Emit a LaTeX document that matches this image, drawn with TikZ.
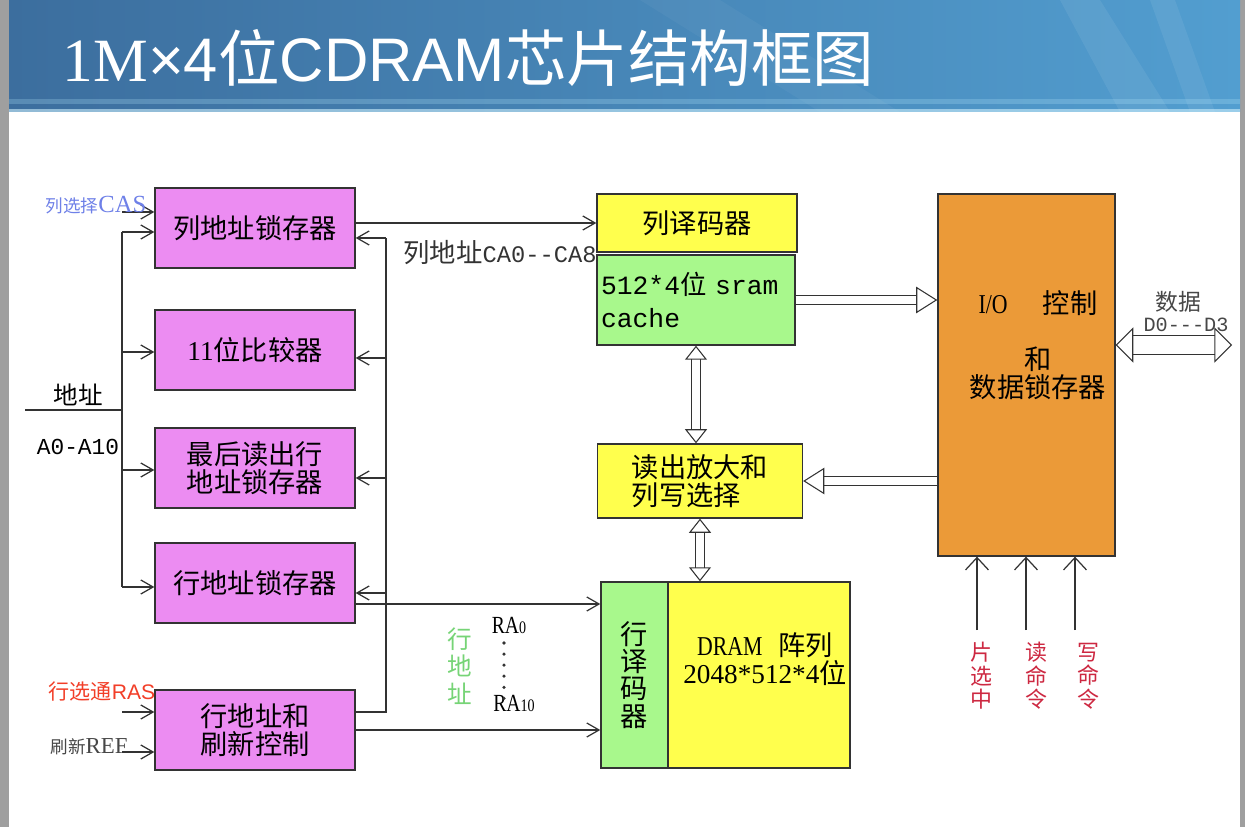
\documentclass[tikz,border=0pt]{standalone}
\usepackage{fontspec}
\setmainfont{Noto Sans CJK SC}
\newfontfamily\lat{Liberation Serif}
\newfontfamily\half{Liberation Serif}[FakeStretch=0.8]
\newfontfamily\mono{Liberation Mono}
\newfontfamily\sans{Liberation Sans}
\usetikzlibrary{arrows.meta, positioning}
\definecolor{boxpink}{RGB}{236,140,242}
\definecolor{boxyellow}{RGB}{255,255,77}
\definecolor{boxgreen}{RGB}{168,248,140}
\definecolor{boxorange}{RGB}{235,154,56}
\definecolor{wire}{RGB}{51,51,51}
\definecolor{barleft}{RGB}{60,110,158}
\definecolor{barright}{RGB}{82,158,208}
\definecolor{casblue}{RGB}{110,128,232}
\definecolor{rasred}{RGB}{242,62,40}
\definecolor{rowgreen}{RGB}{118,212,118}
\definecolor{cmdred}{RGB}{205,40,65}
\newcommand\boxfont{\fontsize{15.5pt}{16pt}\selectfont}

\begin{document}
\begin{tikzpicture}[x=0.02cm,y=-0.02cm,>={Straight Barb[length=7pt,width=8pt]},
  blk/.style={draw=wire,line width=0.8pt,minimum width=4cm,minimum height=1.6cm,font=\boxfont,align=center,inner sep=2pt},
  bus/.style={draw=wire,line width=0.6pt,double=white,double distance=#1},bus/.default=4pt,
  hollow/.tip={Triangle[open,length=12pt,width=15pt,line width=0.6pt]},
  hollowv/.tip={Triangle[open,length=8pt,width=12.5pt,line width=0.6pt]},
  hollowd/.tip={Triangle[open,length=10pt,width=20pt,line width=0.6pt]},
  every path/.append style={line width=0.7pt}]
\useasboundingbox (0,0) rectangle (1245,827);
% slide background and title bar
\fill[white] (0,0) rectangle (1245,827);
\fill[gray!75] (0,0) rectangle (9,827);
\fill[gray!75] (1240,0) rectangle (1245,827);
\shade[left color=barleft,right color=barright] (9,0) rectangle (1240,112);
\fill[white,opacity=0.07] (1060,0) -- (1100,0) -- (1170,112) -- (1120,112) -- cycle;
\fill[white,opacity=0.07] (1150,0) -- (1175,0) -- (1215,112) -- (1190,112) -- cycle;
\fill[white,opacity=0.04] (640,0) -- (720,0) -- (900,112) -- (820,112) -- cycle;
\fill[cyan!30,opacity=0.25] (9,99) rectangle (1240,104);
\fill[cyan!20!white,opacity=0.6] (9,109) rectangle (1240,112);
\node[anchor=base west,text=white,font=\fontsize{35pt}{35pt}\selectfont,inner sep=0pt] at (62,82) (title) {{\lat 1M}{\sans ×4}位{\sans CDRAM}芯片结构框图};

% left column
\node[blk,fill=boxpink] at (255,228) (cal) {列地址锁存器};
\node[blk,fill=boxpink] at (255,350) (cmp) {{\lat 11}位比较器};
\node[blk,fill=boxpink] at (255,468) (lra) {最后读出行\\地址锁存器};
\node[blk,fill=boxpink] at (255,583) (ral) {行地址锁存器};
\node[blk,fill=boxpink] at (255,730) (rfc) {行地址和\\刷新控制};

% middle column
\node[blk,fill=boxyellow,minimum height=1.16cm] at (697,223) (cdec) {列译码器};
\node[blk,fill=boxgreen,minimum width=3.96cm,minimum height=1.8cm,text width=3.8cm,align=left,inner xsep=0.08cm,
  font=\mono\fontsize{15pt}{19pt}\selectfont] at (696,300) (sram) {512*4{\rmfamily 位} sram\\cache};
\node[blk,fill=boxyellow,minimum width=4.1cm,minimum height=1.48cm,align=left] at (700,481) (rsa) {读出放大和\\列写选择};
\node[blk,fill=boxgreen,minimum width=1.34cm,minimum height=3.72cm,font=\fontsize{15.5pt}{15.5pt}\selectfont] at (634.5,675) (rdec) {行\\译\\码\\器};
\node[blk,fill=boxyellow,minimum width=3.64cm,minimum height=3.72cm] at (759,675) (dram) {};
\node[font=\boxfont,align=center] at (765,659) (dramtxt) {{\half DRAM}\hspace{9pt}阵列\\{\lat 2048*512*4}位};

% right column
\node[blk,fill=boxorange,minimum width=3.54cm,minimum height=7.24cm] at (1026.5,375) (io) {};
\node[font=\boxfont,align=center] at (1038,345) (iotxt) {{\half I/O}\hspace{20pt}控制\\[16pt]和\\数据锁存器};

% address inputs
\coordinate (addr) at (25,410);
\coordinate (lj) at (122,410);
\coordinate (l0) at (122,212);
\coordinate (l1) at (122,232);
\coordinate (l2) at (122,352);
\coordinate (l3) at (122,470);
\coordinate (l4) at (122,587);
\coordinate (l5) at (122,712);
\coordinate (l6) at (122,752);
\draw[wire] (addr) -- (lj);
\draw[wire] (l1) -- (l4);
\draw[wire,->] (l0) -- (l0 -| cal.west);
\draw[wire,->] (l1) -- (l1 -| cal.west);
\draw[wire,->] (l2) -- (l2 -| cmp.west);
\draw[wire,->] (l3) -- (l3 -| lra.west);
\draw[wire,->] (l4) -- (l4 -| ral.west);
\draw[wire,->] (l5) -- (l5 -| rfc.west);
\draw[wire,->] (l6) -- (l6 -| rfc.west);

\node[font=\fontsize{14pt}{16pt}\selectfont] at (78,395) (addrlbl) {地址};
\node[font=\mono\fontsize{13pt}{15pt}\selectfont] at (78,447) (alines) {A0-A10};
\node[text=casblue,font=\fontsize{10pt}{12pt}\selectfont] at (96,205) (caslbl) {列选择{\lat\fontsize{14pt}{15pt}\selectfont CAS}};
\node[text=rasred,font=\fontsize{12pt}{14pt}\selectfont] at (102,692) (raslbl) {行选通{\sans RAS}};
\node[text=wire!90,font=\fontsize{10pt}{12pt}\selectfont] at (89,747) (reflbl) {刷新{\lat\fontsize{13pt}{14pt}\selectfont REF}};

% refresh control feedback bus
\coordinate (r1) at (386,238);
\coordinate (r2) at (386,358);
\coordinate (r3) at (386,478);
\coordinate (r4) at (386,593);
\coordinate (r5) at (386,712);
\draw[wire] (rfc.east |- r5) -- (r5) -- (r1);
\draw[wire,->] (r1) -- (r1 -| cal.east);
\draw[wire,->] (r2) -- (r2 -| cmp.east);
\draw[wire,->] (r3) -- (r3 -| lra.east);
\draw[wire,->] (r4) -- (r4 -| ral.east);

% addresses to the decoders
\draw[wire,->] (cal.east |- cdec.west) to node[below=6pt,pos=0.6,font=\fontsize{15pt}{16pt}\selectfont]{列地址{\mono\fontsize{13.5pt}{15pt}\selectfont CA0--CA8}} (cdec.west);
\coordinate (ra) at (470,604);
\draw[wire,->] (ra -| ral.east) -- (ra -| rdec.west);
\draw[wire,->] (rfc.east) -- (rfc.east -| rdec.west);
\node[text=rowgreen,font=\fontsize{14pt}{15.5pt}\selectfont,align=center] at (460,666) (rowlbl) {行\\地\\址};
\node[font=\half\fontsize{14pt}{15pt}\selectfont] at (509,625) (ra0) {RA{\fontsize{10pt}{11pt}\selectfont 0}};
\node[font=\half\fontsize{14pt}{15pt}\selectfont] at (514,703) (ra10) {RA{\fontsize{10pt}{11pt}\selectfont 10}};
\coordinate (dt) at (504,643);
\coordinate (db) at (504,700);
\draw[wire,line width=2pt,line cap=round,dash pattern=on 0pt off 6.3pt] (dt) -- (db);

% data paths
\draw[bus,-hollow] (sram.east) -- (io.west |- sram.east);
\draw[bus,-hollow] (io.west |- rsa.east) -- (rsa.east);
\draw[bus=5pt,hollowv-hollowv] (sram.south) -- (sram.south |- rsa.north);
\draw[bus=5pt,hollowv-hollowv] (rsa.south) -- (rsa.south |- dram.north);
\coordinate (dend) at (1232,345);
\draw[bus=10pt,hollowd-hollowd] (io.east |- dend) -- (dend);
\node[text=wire!90,font=\fontsize{13pt}{14pt}\selectfont] at (1178,302) (datlbl) {数据};
\node[text=wire!90,font=\mono\fontsize{11.5pt}{13pt}\selectfont] at (1186,325) (dlines) {D0---D3};

% control commands
\node[text=cmdred,font=\fontsize{12.5pt}{13.4pt}\selectfont,align=center] at (981,676) (cslbl) {片\\选\\中};
\node[text=cmdred,font=\fontsize{12.5pt}{13.4pt}\selectfont,align=center] at (1036,676) (rdlbl) {读\\命\\令};
\node[text=cmdred,font=\fontsize{12.5pt}{13.4pt}\selectfont,align=center] at (1088,676) (wrlbl) {写\\命\\令};
\draw[wire,->,>={Straight Barb[length=7pt,width=13pt]}] (977,630) -- (977,630 |- io.south);
\draw[wire,->,>={Straight Barb[length=7pt,width=13pt]}] (1026,630) -- (1026,630 |- io.south);
\draw[wire,->,>={Straight Barb[length=7pt,width=13pt]}] (1075,630) -- (1075,630 |- io.south);
\end{tikzpicture}
\end{document}
